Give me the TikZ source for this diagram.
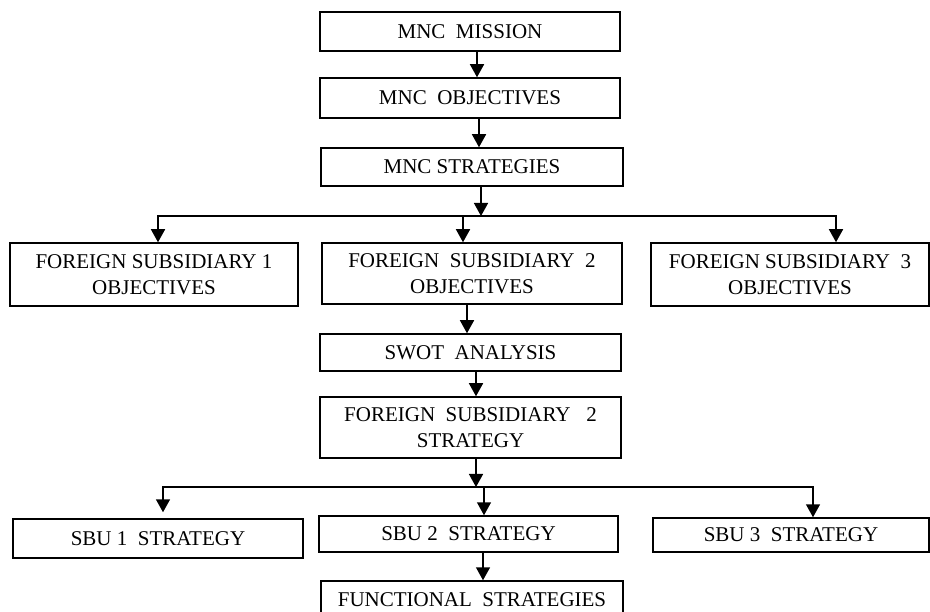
\documentclass[tikz,border=0pt]{standalone}
\usepackage{fontspec}
\setmainfont{Liberation Serif}
\usetikzlibrary{arrows.meta}
\begin{document}
\begin{tikzpicture}[x=1pt,y=-1pt,
  box/.style={draw, line width=1.5pt, inner sep=0pt, align=center,
              font=\fontsize{21}{26}\selectfont},
  arr/.style={line width=1.5pt, -{Triangle[width=14pt,length=13pt]}}]
\useasboundingbox (0,0) rectangle (930,612);
\clip (0,0) rectangle (930,612);

% corporate level
\node[box, minimum width=300pt, minimum height=39pt] (mission)    at (470,31.5) {MNC\ \ MISSION};
\node[box, minimum width=300pt, minimum height=40pt] (objectives) at (470,98)   {MNC\ \ OBJECTIVES};
\node[box, minimum width=302pt, minimum height=38pt] (strategies) at (472,167)  {MNC STRATEGIES};

% subsidiary objectives
\node[box, minimum width=288pt, minimum height=63pt] (fs1) at (154,274.5) {FOREIGN SUBSIDIARY 1\\OBJECTIVES};
\node[box, minimum width=300pt, minimum height=61pt] (fs2) at (472,273.5) {FOREIGN\ \ SUBSIDIARY\ \ 2\\OBJECTIVES};
\node[box, minimum width=278pt, minimum height=63pt] (fs3) at (790,274.5) {FOREIGN SUBSIDIARY\ \ 3\\OBJECTIVES};

% subsidiary 2 planning
\node[box, minimum width=301pt, minimum height=37pt] (swot) at (470.5,352.5) {SWOT\ \ ANALYSIS};
\node[box, minimum width=301pt, minimum height=61pt] (fs2s) at (470.5,427.5) {FOREIGN\ \ SUBSIDIARY\ \ \ 2\\STRATEGY};

% business units
\node[box, minimum width=290pt, minimum height=39pt] (sbu1) at (158,538.5) {SBU 1\ \ STRATEGY};
\node[box, minimum width=299pt, minimum height=36pt] (sbu2) at (468.5,534) {SBU 2\ \ STRATEGY};
\node[box, minimum width=276pt, minimum height=34pt] (sbu3) at (791,535)   {SBU 3\ \ STRATEGY};
\node[box, minimum width=302pt, minimum height=38pt] (func) at (472,600)   {FUNCTIONAL\ \ STRATEGIES};

% vertical chain at the top
\draw[arr] ([xshift=7pt]mission.south) -- ([xshift=7pt]mission.south |- objectives.north);
\draw[arr] ([xshift=9pt]objectives.south) -- ([xshift=9pt]objectives.south |- strategies.north);

% first distribution bus
\coordinate (bus1M) at (481,216);
\draw[arr] (strategies.south -| bus1M) -- (bus1M);
\draw[arr] (bus1M) -| ([xshift=4pt]fs1.north);
\draw[arr] (bus1M) -| ([xshift=46pt]fs3.north);
\draw[arr] ([xshift=-9pt]fs2.north |- bus1M) -- ([xshift=-9pt]fs2.north);

% subsidiary 2 chain
\draw[arr] ([xshift=-5pt]fs2.south) -- ([xshift=-5pt]fs2.south |- swot.north);
\draw[arr] ([xshift=5.5pt]swot.south) -- ([xshift=5.5pt]swot.south |- fs2s.north);

% second distribution bus
\coordinate (bus2M) at (476,487);
\draw[arr] (fs2s.south -| bus2M) -- (bus2M);
\draw[arr, shorten >=6pt] (bus2M) -| ([xshift=5pt]sbu1.north);
\draw[arr] (bus2M) -| ([xshift=22pt]sbu3.north);
\draw[arr] ([xshift=15.5pt]sbu2.north |- bus2M) -- ([xshift=15.5pt]sbu2.north);
\draw[arr] ([xshift=14.5pt]sbu2.south) -- ([xshift=14.5pt]sbu2.south |- func.north);
\end{tikzpicture}
\end{document}
